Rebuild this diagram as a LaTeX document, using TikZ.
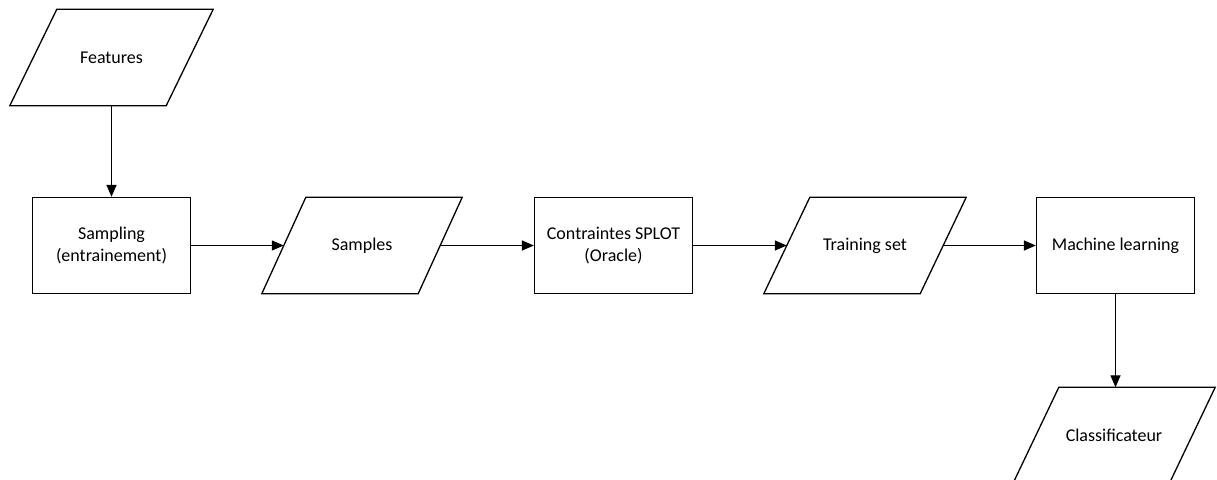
\documentclass[tikz,border=0pt]{standalone}
\usepackage{fontspec}
\setmainfont{Carlito}
\usetikzlibrary{arrows.meta}
\begin{document}
\begin{tikzpicture}[x=1pt,y=-1pt,
  every node/.style={font=\fontsize{18}{22}\selectfont, align=center, inner sep=0pt},
  procbox/.style={draw, line width=1.3pt, minimum width=158pt, minimum height=96pt},
  databox/.style={minimum width=156pt, minimum height=96pt},
  conn/.style={line width=1.3pt, -{Triangle[length=12pt,width=10pt]}},
  para/.style={line width=1.3pt, line join=miter}]
\useasboundingbox (0,0) rectangle (1217,479);
\newcommand{\pgram}[2]{%
  \draw[para] ([xshift=#2]#1.north west) -- ([xshift=#2]#1.north east) -- ([xshift=-#2]#1.south east) -- ([xshift=-#2]#1.south west) -- cycle;}
\node[databox] (feat) at (111.5,57.5) {Features};
\pgram{feat}{23.5pt}
\node[procbox] (samp) at (111.5,245.5) {Sampling\\(entrainement)};
\node[databox] (smp) at (362,245.5) {Samples};
\pgram{smp}{22pt}
\node[procbox] (con) at (613.5,245.5) {Contraintes SPLOT\\(Oracle)};
\node[databox] (train) at (865,245.5) {Training set};
\pgram{train}{23pt}
\node[procbox] (ml) at (1115.5,245.5) {Machine learning};
\node[databox] (cls) at (1114,435.5) {Classificateur};
\pgram{cls}{23pt}
\draw[conn] (feat.south) -- (samp.north);
\draw[conn] (samp.east) -- (smp.west);
\draw[conn] (smp.east) -- (con.west);
\draw[conn] (con.east) -- (train.west);
\draw[conn] (train.east) -- (ml.west);
\draw[conn] (ml.south) -- (ml.south |- cls.north);
\end{tikzpicture}
\end{document}
